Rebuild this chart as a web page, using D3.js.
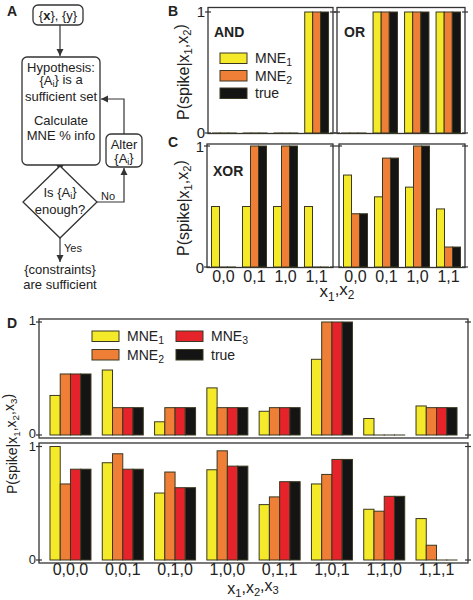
<!DOCTYPE html>
<html><head><meta charset="utf-8">
<script src="https://cdn.jsdelivr.net/npm/d3@7"></script>
<style>
body{margin:0;background:#fff;}
text{font-family:"Liberation Sans",Arial,sans-serif;fill:#222;}
</style></head>
<body>
<svg id="c" width="473" height="600"></svg>
<script>
// ---------- DATA ----------
const groups2 = ["0,0", "0,1", "1,0", "1,1"];
const groups3 = ["0,0,0", "0,0,1", "0,1,0", "1,0,0", "0,1,1", "1,0,1", "1,1,0", "1,1,1"];
const series2 = ["MNE1", "MNE2", "true"];
const series3 = ["MNE1", "MNE2", "MNE3", "true"];
const yTicks = [0, 1];

const andMNE1 = [0, 0, 0, 1];
const andMNE2 = [0, 0, 0, 1];
const andTrue = [0, 0, 0, 1];

const orMNE1 = [0, 1, 1, 1];
const orMNE2 = [0, 1, 1, 1];
const orTrue = [0, 1, 1, 1];

const xorMNE1 = [0.5, 0.5, 0.5, 0.5];
const xorMNE2 = [0, 1, 1, 0];
const xorTrue = [0, 1, 1, 0];

const c2MNE1 = [0.76, 0.58, 0.66, 0.48];
const c2MNE2 = [0.44, 0.90, 1.0, 0.165];
const c2True = [0.44, 0.90, 1.0, 0.165];

const d1MNE1 = [0.35, 0.575, 0.117, 0.417, 0.21, 0.67, 0.146, 0.257];
const d1MNE2 = [0.54, 0.242, 0.242, 0.242, 0.242, 1.0, 0, 0.242];
const d1MNE3 = [0.54, 0.242, 0.242, 0.242, 0.242, 1.0, 0, 0.242];
const d1True = [0.54, 0.242, 0.242, 0.242, 0.242, 1.0, 0, 0.242];

const d2MNE1 = [1.0, 0.857, 0.59, 0.795, 0.488, 0.67, 0.447, 0.365];
const d2MNE2 = [0.67, 0.936, 0.775, 0.962, 0.556, 0.754, 0.43, 0.13];
const d2MNE3 = [0.80, 0.80, 0.637, 0.827, 0.69, 0.886, 0.561, 0];
const d2True = [0.80, 0.80, 0.637, 0.827, 0.69, 0.886, 0.561, 0];

// ---------- STYLE ----------
const colors = {MNE1: "#f4ea2a", MNE2: "#ef7f36", MNE3: "#e6222a", "true": "#141414"};
const barStroke = "#3a3820";
const frameColor = "#333";

const svg = d3.select("#c");

function drawPanel(o) {
  const g = svg.append("g");
  const y = d3.scaleLinear().domain([0, 1]).range([o.y0, o.y1]);
  const x = d3.scaleBand().domain(o.groups).range([o.xl, o.xr]).paddingInner(o.pi).paddingOuter(o.po);
  const xs = d3.scaleBand().domain(o.series).range([0, x.bandwidth()]);
  g.append("rect").attr("x", o.xl).attr("y", y(1) - o.ft).attr("width", o.xr - o.xl)
    .attr("height", (y(0) + o.fb) - (y(1) - o.ft)).attr("fill", "none")
    .attr("stroke", frameColor).attr("stroke-width", 1.3);
  o.series.forEach((s, si) => {
    const vals = o.values[si];
    g.selectAll(null).data(o.groups).enter().append("rect")
      .attr("x", d => x(d) + xs(s))
      .attr("y", (d, i) => y(vals[i]))
      .attr("width", xs.bandwidth())
      .attr("height", (d, i) => Math.max(0.01, y(0) - y(vals[i])))
      .attr("fill", colors[s]).attr("stroke", barStroke).attr("stroke-width", 1);
  });
  [o.xl, o.xr].forEach(ax => {
    g.selectAll(null).data(yTicks).enter().append("line")
      .attr("x1", ax - 3).attr("x2", ax + 3)
      .attr("y1", d => y(d)).attr("y2", d => y(d))
      .attr("stroke", frameColor).attr("stroke-width", 1.2);
  });
  if (o.yLabels) {
    g.selectAll(null).data(yTicks).enter().append("text")
      .attr("x", o.xl - 3).attr("y", d => y(d)).attr("dy", o.tdy || "0.36em")
      .attr("text-anchor", "end").attr("font-size", o.fs || 15).text(d => d3.format("d")(d));
  }
  if (o.xLabels) {
    g.selectAll(null).data(o.groups).enter().append("text")
      .attr("x", d => x(d) + x.bandwidth() / 2).attr("y", o.xLabelY)
      .attr("text-anchor", "middle").attr("font-size", 16).text(d => d);
  }
  return g;
}

// ---------- PANEL B ----------
drawPanel({xl: 208, xr: 333, y0: 133, y1: 12, ft: 4.5, fb: 0.5, groups: groups2, series: series2,
  values: [andMNE1, andMNE2, andTrue], pi: 0.226, po: 0.145, yLabels: true, tdy: "0.3em"});
drawPanel({xl: 337, xr: 465, y0: 133, y1: 12, ft: 4.5, fb: 0.5, groups: groups2, series: series2,
  values: [orMNE1, orMNE2, orTrue], pi: 0.226, po: 0.145, yLabels: false});

// ---------- PANEL C ----------
drawPanel({xl: 207, xr: 333, y0: 267, y1: 146, ft: 2, fb: 0.5, groups: groups2, series: series2,
  values: [xorMNE1, xorMNE2, xorTrue], pi: 0.226, po: 0.145, yLabels: true, xLabels: true, xLabelY: 282, tdy: "0.4em"});
drawPanel({xl: 339, xr: 465, y0: 267, y1: 146, ft: 2, fb: 0.5, groups: groups2, series: series2,
  values: [c2MNE1, c2MNE2, c2True], pi: 0.226, po: 0.145, yLabels: false, xLabels: true, xLabelY: 282});

// ---------- PANEL D ----------
drawPanel({xl: 39, xr: 468, y0: 435, y1: 322, ft: 3, fb: 3, groups: groups3, series: series3,
  values: [d1MNE1, d1MNE2, d1MNE3, d1True], pi: 0.216, po: 0.21, yLabels: true, fs: 13, tdy: "0.25em"});
drawPanel({xl: 39, xr: 468, y0: 560, y1: 446.5, ft: 3.5, fb: 3, groups: groups3, series: series3,
  values: [d2MNE1, d2MNE2, d2MNE3, d2True], pi: 0.216, po: 0.21, yLabels: true, fs: 13, tdy: "0.32em",
  xLabels: true, xLabelY: 575});

// ---------- AXIS TITLES ----------
function yTitle(tx, ty, subs, fs) {
  const t = svg.append("text").attr("transform", `translate(${tx},${ty}) rotate(-90)`)
    .attr("text-anchor", "middle").attr("font-size", fs);
  t.append("tspan").text("P(spike|");
  subs.forEach((s, i) => {
    t.append("tspan").text("x");
    t.append("tspan").attr("font-size", "0.7em").attr("dy", "0.3em").text(s);
    t.append("tspan").attr("dy", "-0.3em").text(i < subs.length - 1 ? "," : ")");
  });
}
yTitle(189, 72, ["1", "2"], 16);
yTitle(189, 208, ["1", "2"], 16);
yTitle(17, 444, ["1", "2", "3"], 14);

function xTitle(tx, ty, subs, fs) {
  const t = svg.append("text").attr("x", tx).attr("y", ty).attr("text-anchor", "middle").attr("font-size", fs);
  subs.forEach((s, i) => {
    t.append("tspan").text("x");
    t.append("tspan").attr("font-size", "0.7em").attr("dy", "0.3em").text(s);
    t.append("tspan").attr("dy", "-0.3em").text(i < subs.length - 1 ? "," : "");
  });
}
xTitle(337, 297, ["1", "2"], 17);
xTitle(253, 594, ["1", "2", "3"], 16);

// ---------- IN-PANEL LABELS ----------
svg.append("text").attr("x", 214).attr("y", 37).attr("font-size", 14).attr("font-weight", "bold").text("AND");
svg.append("text").attr("x", 344).attr("y", 37).attr("font-size", 14).attr("font-weight", "bold").text("OR");
svg.append("text").attr("x", 213).attr("y", 176).attr("font-size", 14).attr("font-weight", "bold").text("XOR");

function legend(items, x, y, dy, rows, colDx) {
  items.forEach((s, i) => {
    const c = Math.floor(i / rows), r = i % rows;
    const lx = x + c * colDx, ly = y + r * dy;
    svg.append("rect").attr("x", lx).attr("y", ly).attr("width", 27).attr("height", 10.5)
      .attr("fill", colors[s]).attr("stroke", barStroke).attr("stroke-width", 1);
    const t = svg.append("text").attr("x", lx + 35).attr("y", ly + 10).attr("font-size", 14);
    if (s === "true") t.text("true");
    else { t.append("tspan").text("MNE"); t.append("tspan").attr("font-size", "0.75em").attr("dy", "0.3em").text(s.slice(3)); }
  });
}
legend(series2, 220, 53, 17.5, 3, 0);
legend(series3, 92, 331, 18.5, 2, 84);

[["A", 7, 16], ["B", 168, 16], ["C", 168, 147], ["D", 7, 328]].forEach(([l, x, y]) => {
  svg.append("text").attr("x", x).attr("y", y).attr("font-size", 14).attr("font-weight", "bold").text(l);
});

// ---------- FLOWCHART A ----------
const fc = svg.append("g");
const lc = "#333";
svg.append("defs").append("marker").attr("id", "ah").attr("viewBox", "0 0 10 10")
  .attr("refX", 10).attr("refY", 5).attr("markerWidth", 6).attr("markerHeight", 6)
  .attr("orient", "auto").append("path").attr("d", "M0,0L10,5L0,10Z").attr("fill", lc);
function box(x, y, w, h) {
  fc.append("rect").attr("x", x).attr("y", y).attr("width", w).attr("height", h).attr("rx", 5)
    .attr("fill", "#fff").attr("stroke", lc).attr("stroke-width", 1.3);
}
function arrow(pts) {
  fc.append("path").attr("d", d3.line()(pts)).attr("fill", "none").attr("stroke", lc)
    .attr("stroke-width", 1.2).attr("marker-end", "url(#ah)");
}
function txt(x, y, s, fs) {
  return fc.append("text").attr("x", x).attr("y", y).attr("text-anchor", "middle").attr("font-size", fs || 13).text(s);
}
function subTxt(x, y, pre, sub, post) {
  const t = fc.append("text").attr("x", x).attr("y", y).attr("text-anchor", "middle").attr("font-size", 13);
  t.append("tspan").text(pre);
  t.append("tspan").attr("font-size", "0.7em").attr("dy", "0.25em").text(sub);
  t.append("tspan").attr("dy", "-0.25em").text(post);
}
box(33, 5, 50, 20);
const t0 = fc.append("text").attr("x", 58).attr("y", 20).attr("text-anchor", "middle").attr("font-size", 13);
t0.append("tspan").text("{");
t0.append("tspan").attr("font-weight", "bold").text("x");
t0.append("tspan").text("}, {y}");
arrow([[60, 25], [60, 56]]);
box(22, 57, 78, 108);
txt(61, 72, "Hypothesis:");
subTxt(61, 85, "{A", "i", "} is a");
txt(61, 101, "sufficient set");
txt(61, 125, "Calculate");
txt(61, 140, "MNE % info");
arrow([[60, 165], [60, 172]]);
fc.append("path").attr("d", "M60,166L97,202L60,238L23,202Z").attr("fill", "#fff").attr("stroke", lc).attr("stroke-width", 1.3);
subTxt(60, 197, "Is {A", "i", "}");
txt(60, 214, "enough?");
arrow([[97, 202], [124, 202], [124, 168]]);
txt(108, 200, "No", 11);
box(106, 134, 36, 33);
txt(124, 149, "Alter");
subTxt(124, 163, "{A", "i", "}");
arrow([[124, 134], [124, 99], [101, 99]]);
arrow([[60, 238], [60, 262]]);
fc.append("text").attr("x", 64).attr("y", 252).attr("font-size", 11).text("Yes");
txt(60, 274, "{constraints}");
txt(60, 289, "are sufficient");
</script>
</body></html>
